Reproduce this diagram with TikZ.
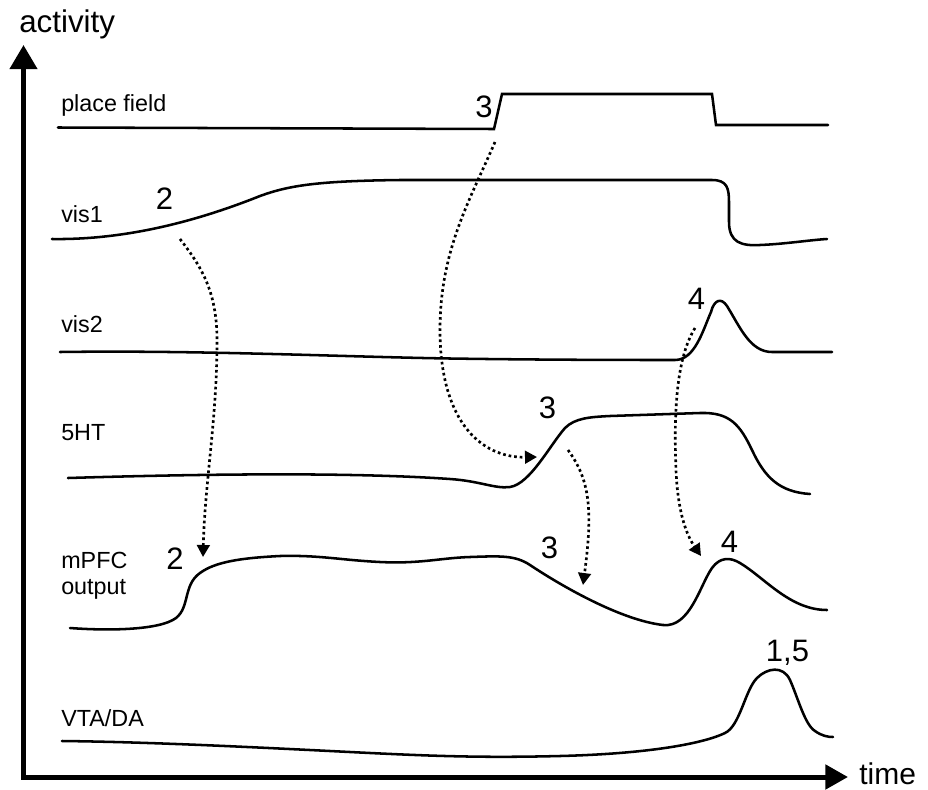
\documentclass[tikz,border=0pt]{standalone}
\usepackage{fontspec}
\setmainfont{Liberation Sans}
\usetikzlibrary{arrows.meta}
\begin{document}
\begin{tikzpicture}[x=0.75pt, y=-0.75pt,
  trace/.style={line width=1.9pt, line join=round, line cap=round},
  axis/.style={line width=3.75pt, line join=miter,
    {Triangle[length=18pt,width=20pt]}-{Triangle[length=17pt,width=18pt]}},
  link/.style={line width=2pt, dash pattern=on 2pt off 2.2pt,
    -{Triangle[length=9pt,width=9.5pt]}},
  lab/.style={anchor=base west, inner sep=0pt, align=left,
    font=\fontsize{17.5}{19.5}\selectfont},
  num/.style={inner sep=0pt, text depth=0pt, font=\fontsize{23.25}{28}\selectfont},
  big/.style={anchor=base west, inner sep=0pt, font=\fontsize{23.5}{28}\selectfont}]

\useasboundingbox (0,0) rectangle (928,789);

% axes
\draw[axis] (23.5,45) -- (23.5,777) -- (848,777);
\node[big] (activity) at (19,32) {activity};
\node[big, font=\fontsize{22.5}{27}\selectfont] (time) at (859,784) {time};

% trace labels
\node[lab] (lpf)  at (61,111) {place field};
\node[lab] (lv1)  at (61,222) {vis1};
\node[lab] (lv2)  at (61,332) {vis2};
\node[lab] (l5ht) at (61,440) {5HT};
\node[lab] (lmpfc) at (61,594) {mPFC\\output};
\node[lab] (lvta) at (61,726) {VTA/DA};

% event numbers
\node[num] (n3a) at (484,106.5) {3};
\node[num] (n2a) at (164.5,199) {2};
\node[num] (n4a) at (696.5,298.5) {4};
\node[num] (n3b) at (547.5,408) {3};
\node[num] (n2b) at (175,558.5) {2};
\node[num] (n3c) at (549.5,548) {3};
\node[num] (n4b) at (729.5,541.5) {4};
\node[num] (n15) at (787.5,651) {1,5};

% place field
\draw[trace, line join=miter] (58,127.5) -- (494,129) -- (502,94) -- (712,94) -- (716,125) -- (828,125);

% vis1
\draw[trace] (52,239) .. controls (120,240) and (190,224) .. (260,196)
  .. controls (290,185) and (320,181) .. (400,180) -- (712,180)
  .. controls (727,180) and (729,188) .. (729,202) -- (729,222)
  .. controls (729,243) and (742,246) .. (760,245)
  .. controls (785,244) and (810,240) .. (827,239);

% vis2
\draw[trace] (60,352) .. controls (200,350) and (350,357) .. (450,358.5)
  .. controls (550,360) and (640,360) .. (675,360)
  .. controls (695,360) and (703,330) .. (711,312)
  .. controls (714,300) and (721,297) .. (727,306)
  .. controls (740,327) and (750,352) .. (772,352) -- (832,352);

% 5HT
\draw[trace] (68,478) .. controls (200,474) and (350,472) .. (450,479)
  .. controls (480,481) and (495,489) .. (510,487)
  .. controls (530,484) and (550,445) .. (565,428)
  .. controls (575,418) and (590,417) .. (610,416) -- (700,413)
  .. controls (730,412) and (740,425) .. (752,450)
  .. controls (765,478) and (780,492) .. (810,494);

% mPFC output
\draw[trace] (70,628) .. controls (110,631) and (160,630) .. (176,618)
  .. controls (190,607) and (183,585) .. (200,573)
  .. controls (215,562) and (240,558) .. (280,556)
  .. controls (320,555) and (340,560) .. (380,562)
  .. controls (420,564) and (440,558) .. (470,557)
  .. controls (500,556) and (515,555) .. (530,565)
  .. controls (560,585) and (620,620) .. (663,625)
  .. controls (690,628) and (700,585) .. (712,568)
  .. controls (720,557) and (730,557) .. (740,563)
  .. controls (765,578) and (790,610) .. (827,610);

% VTA/DA
\draw[trace] (62,741) .. controls (150,742) and (250,747) .. (350,752)
  .. controls (430,756) and (480,758) .. (560,756)
  .. controls (640,754) and (700,745) .. (725,733)
  .. controls (740,726) and (745,690) .. (757,678)
  .. controls (767,668) and (783,665) .. (790,680)
  .. controls (798,698) and (805,725) .. (815,731)
  .. controls (822,736) and (828,737) .. (833,737);

% causal links
\coordinate (a1) at (180,239);  \coordinate (a2) at (203,557);
\coordinate (b1) at (495,142);  \coordinate (b2) at (537,457);
\coordinate (c1) at (568,450);  \coordinate (c2) at (583,585);
\coordinate (d1) at (695,328);  \coordinate (d2) at (701,556);

\draw[link] (a1) .. controls (200,265) and (217,290) .. (217,340)
  .. controls (217,420) and (205,480) .. (a2);
\draw[link] (b1) .. controls (470,200) and (440,250) .. (440,330)
  .. controls (440,420) and (480,458) .. (b2);
\draw[link] (c1) .. controls (590,480) and (593,510) .. (c2);
\draw[link] (d1) .. controls (675,360) and (674,420) .. (676,470)
  .. controls (678,520) and (690,540) .. (d2);

\end{tikzpicture}
\end{document}
